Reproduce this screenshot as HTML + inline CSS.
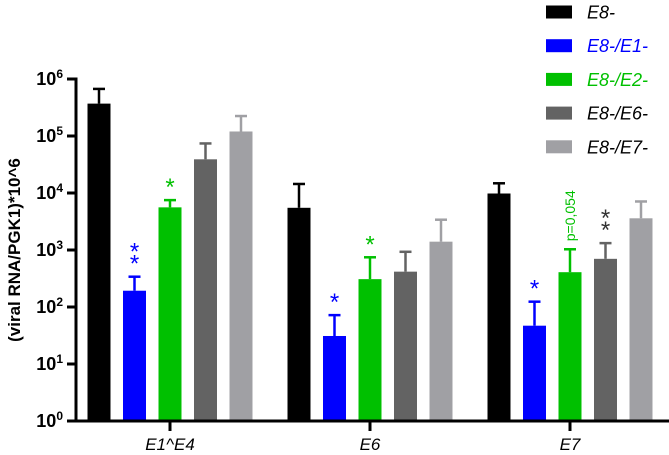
<!DOCTYPE html>
<html><head><meta charset="utf-8"><style>
html,body{margin:0;padding:0;background:#fff;}
svg{display:block;font-family:"Liberation Sans",Arial,sans-serif;}
</style></head><body>
<svg id="chart" width="669" height="455" viewBox="0 0 669 455" xmlns="http://www.w3.org/2000/svg"></svg>
<script>
const categories = ["E1^E4", "E6", "E7"];
const seriesNames = ["E8-", "E8-/E1-", "E8-/E2-", "E8-/E6-", "E8-/E7-"];
const seriesColors = ["#000000", "#0000ff", "#00c000", "#636363", "#a0a0a4"];
const legendTextColors = ["#000000", "#0000ff", "#00c000", "#000000", "#000000"];
const valsE8 = [370000, 5500, 9800];
const valsE1 = [193, 31, 47];
const valsE2 = [5600, 308, 408];
const valsE6 = [39000, 417, 700];
const valsE7 = [120000, 1400, 3600];
const errE8 = [670000, 14400, 14800];
const errE1 = [340, 72, 124];
const errE2 = [7500, 745, 1030];
const errE6 = [74000, 930, 1320];
const errE7 = [224000, 3400, 7100];
const yTickExps = [0, 1, 2, 3, 4, 5, 6];
// annotations: [series index, category index, text]
const annotSeries = [1, 2, 1, 2, 1, 3];
const annotCats = [0, 0, 1, 1, 2, 2];
const annotText = ["**", "*", "*", "*", "*", "**"];

const values = [valsE8, valsE1, valsE2, valsE6, valsE7];
const errors = [errE8, errE1, errE2, errE6, errE7];
const svg = document.getElementById('chart');
const NS = "http://www.w3.org/2000/svg";
function el(tag, attrs, parent) {
  const e = document.createElementNS(NS, tag);
  for (const k in attrs) e.setAttribute(k, attrs[k]);
  (parent || svg).appendChild(e);
  return e;
}
const y0 = 421, decade = 57;
function yScale(v) { return y0 - Math.log10(v) * decade; }
const groupX0 = 170, groupStep = 200, barStep = 35.5, barW = 23;
function xGroup(c) { return groupX0 + c * groupStep; }
function xBar(c, s) { return xGroup(c) + (s - 2) * barStep; }

for (let s = 0; s < values.length; s++) {
  for (let c = 0; c < categories.length; c++) {
    const cx = xBar(c, s), yt = yScale(values[s][c]), ye = yScale(errors[s][c]);
    const eb = el('line', {x1: cx, x2: cx, y1: yt, y2: ye, stroke: seriesColors[s], 'stroke-width': 2.5});
    
    
    const cap = el('line', {x1: cx - 6, x2: cx + 6, y1: ye, y2: ye, stroke: seriesColors[s], 'stroke-width': 2.5});
    
    
    const r = el('rect', {x: cx - barW / 2, y: yt, width: barW, height: y0 - yt, fill: seriesColors[s]});
    
    
  }
}
for (let i = 0; i < annotText.length; i++) {
  const s = annotSeries[i], c = annotCats[i];
  const cx = xBar(c, s), ye = yScale(errors[s][c]);
  const col = s === 3 ? "#333" : seriesColors[s];
  const chars = annotText[i].split('');
  chars.forEach((ch, k) => {
    const t = el('text', {x: cx, y: ye - 5 - (chars.length - 1 - k) * 12, 'text-anchor': 'middle', fill: col, 'font-size': 24});
    t.textContent = ch;
    
    
  });
}
{
  const cx = xBar(2, 2) + 5, ye = yScale(errors[2][2]);
  const t = el('text', {x: 0, y: 0, transform: `translate(${cx},${ye - 8}) rotate(-90)`, fill: "#00c000", 'font-size': 14});
  t.textContent = "p=0,054";
  
  
}
const ya = el('line', {x1: 76, x2: 76, y1: yScale(1e6) - 1.5, y2: y0 + 1.5, stroke: '#000', 'stroke-width': 3});


const xa = el('line', {x1: 74.5, x2: 669, y1: y0, y2: y0, stroke: '#000', 'stroke-width': 3});


yTickExps.forEach(e => {
  const y = yScale(Math.pow(10, e));
  const tk = el('line', {x1: 67, x2: 76, y1: y, y2: y, stroke: '#000', 'stroke-width': 3});
  
  
  const t = el('text', {x: 63, y: y + 6, 'text-anchor': 'end', 'font-size': 18, 'font-weight': 'bold'});
  const a = el('tspan', {}, t); a.textContent = "10";
  const b = el('tspan', {dy: -7, 'font-size': 12}, t); b.textContent = String(e);
  
  
});
categories.forEach((cname, c) => {
  const x = xGroup(c);
  const tk = el('line', {x1: x, x2: x, y1: y0, y2: y0 + 10, stroke: '#000', 'stroke-width': 3});
  
  
  const t = el('text', {x: x, y: y0 + 29, 'text-anchor': 'middle', 'font-size': 17, 'font-style': 'italic'});
  t.textContent = cname;
  
  
});
const yt = el('text', {x: 0, y: 0, transform: 'translate(20,250) rotate(-90)', 'text-anchor': 'middle', 'font-size': 17, 'font-weight': 'bold'});
yt.textContent = "(viral RNA/PGK1)*10^6";


seriesNames.forEach((n, s) => {
  const cy = 12 + s * 33.7;
  const g = el('g', {});
  
  
  el('rect', {x: 546, y: cy - 6.5, width: 26, height: 13, fill: seriesColors[s]}, g);
  const t = el('text', {x: 587, y: cy + 6.5, 'font-size': 18, 'font-style': 'italic', fill: legendTextColors[s]}, g);
  t.textContent = n;
});
</script>
</body></html>
